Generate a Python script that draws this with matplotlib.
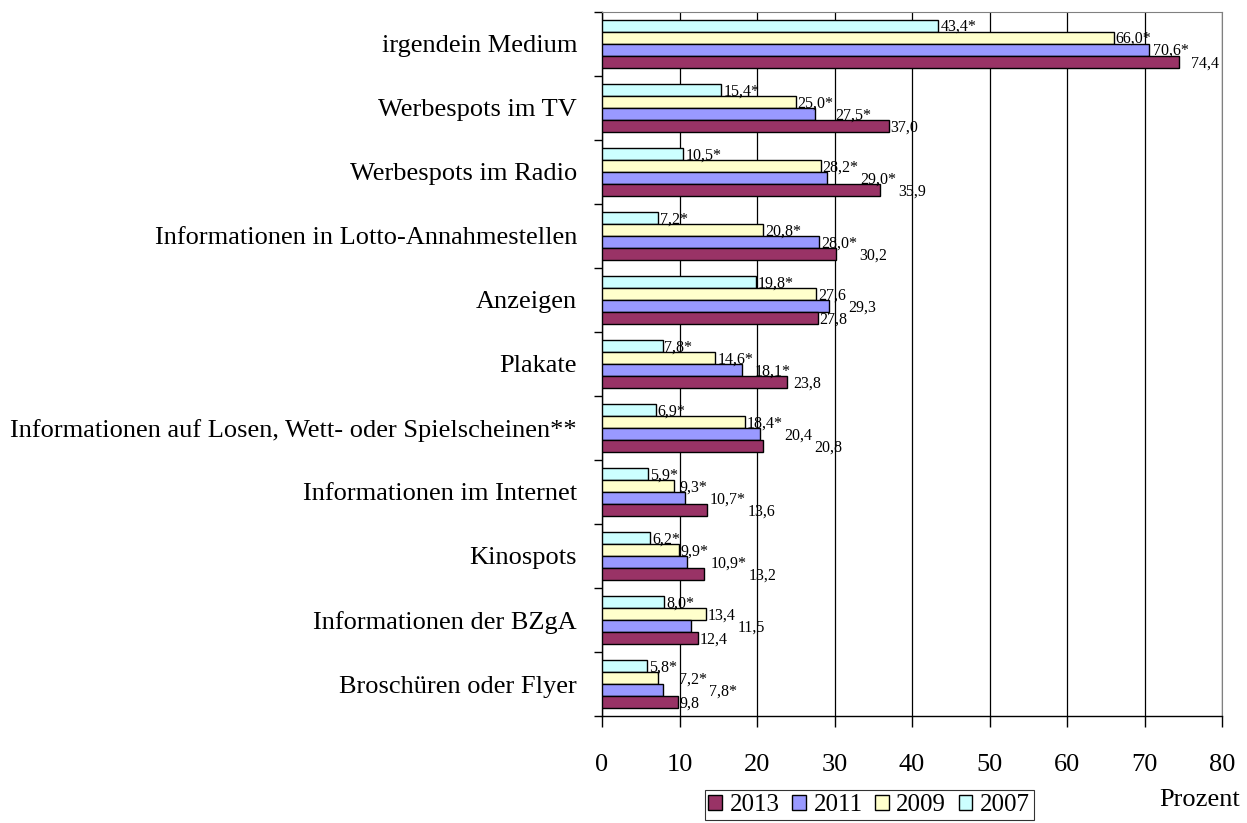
import matplotlib.pyplot as plt
import numpy as np

plt.rcParams["font.family"] = ["Liberation Serif", "DejaVu Serif"]

categories = [
    "irgendein Medium",
    "Werbespots im TV",
    "Werbespots im Radio",
    "Informationen in Lotto-Annahmestellen",
    "Anzeigen",
    "Plakate",
    "Informationen auf Losen, Wett- oder Spielscheinen**",
    "Informationen im Internet",
    "Kinospots",
    "Informationen der BZgA",
    "Broschüren oder Flyer",
]
years = ["2007", "2009", "2011", "2013"]
v2007 = [43.4, 15.4, 10.5, 7.2, 19.8, 7.8, 6.9, 5.9, 6.2, 8.0, 5.8]
v2009 = [66.0, 25.0, 28.2, 20.8, 27.6, 14.6, 18.4, 9.3, 9.9, 13.4, 7.2]
v2011 = [70.6, 27.5, 29.0, 28.0, 29.3, 18.1, 20.4, 10.7, 10.9, 11.5, 7.8]
v2013 = [74.4, 37.0, 35.9, 30.2, 27.8, 23.8, 20.8, 13.6, 13.2, 12.4, 9.8]
# significant difference to 2013 marked with *
s2007 = [1, 1, 1, 1, 1, 1, 1, 1, 1, 1, 1]
s2009 = [1, 1, 1, 1, 0, 1, 1, 1, 1, 0, 1]
s2011 = [1, 1, 1, 1, 0, 1, 0, 1, 1, 0, 1]
s2013 = [0] * 11

series = [v2007, v2009, v2011, v2013]
stars = [s2007, s2009, s2011, s2013]
colors = ["#CCFFFF", "#FFFFCC", "#9999FF", "#993366"]

fig = plt.figure(figsize=(12.47, 8.23), dpi=100)
ax = fig.add_axes([0.4828, 0.130, 0.4972, 0.8556])

n = len(categories)
y = np.arange(n)
h = 0.1875
handles = {}
labels = [[] for _ in range(n)]
for i, (vals, st, col, yr) in enumerate(zip(series, stars, colors, years)):
    pos = y - 1.5 * h + i * h
    b = ax.barh(pos, vals, height=h, color=col, edgecolor="black", linewidth=1.0,
                zorder=3)
    handles[yr] = b
    for k, (p, v, s) in enumerate(zip(pos, vals, st)):
        txt = f"{v:.1f}".replace(".", ",") + ("*" if s else "")
        t = ax.text(v + 0.25, p + 0.02, txt, va="center", ha="left",
                    fontsize=11.5, zorder=4)
        labels[k].append(t)

ax.set_ylim(n - 0.5, -0.5)
ax.set_xlim(0, 80)
ax.set_xticks(np.arange(0, 81, 10))
ax.set_yticks(y)
ax.set_yticklabels(categories, fontsize=19)
ax.set_yticks(np.arange(-0.5, n, 1), minor=True)
ax.tick_params(axis="y", which="major", length=0, pad=18)
ax.tick_params(axis="y", which="minor", length=6, width=1, direction="out")
ax.tick_params(axis="x", labelsize=19, length=8, width=1, direction="out", pad=19)
ax.grid(axis="x", color="black", linewidth=0.9, zorder=0)
for side in ["top", "right"]:
    ax.spines[side].set_color("#808080")
for side in ["left", "bottom"]:
    ax.spines[side].set_linewidth(1.0)

# push labels to the right when they collide with the one above (like Excel does)
fig.canvas.draw()
r = fig.canvas.get_renderer()
px_per_unit = ax.get_window_extent(r).width / 80.0
for group in labels:
    placed = []
    for t in group:
        bb = t.get_window_extent(r)
        for pb in placed:
            if bb.overlaps(pb):
                shift = (pb.x1 + 2 - bb.x0) / px_per_unit
                x, yy = t.get_position()
                t.set_position((x + shift, yy))
                bb = t.get_window_extent(r)
        placed.append(bb)

leg = fig.legend([handles[yr] for yr in ["2013", "2011", "2009", "2007"]],
                 ["2013", "2011", "2009", "2007"],
                 loc="center", bbox_to_anchor=(0.697, 0.022), ncol=4, fontsize=18,
                 frameon=True, fancybox=False, edgecolor="black",
                 handlelength=0.55, handleheight=0.55, handletextpad=0.3,
                 columnspacing=0.5, borderpad=0.15, borderaxespad=0)
leg.get_frame().set_linewidth(0.8)

fig.text(0.994, 0.028, "Prozent", ha="right", va="center", fontsize=19)

fig.savefig("out.png", dpi=100)
